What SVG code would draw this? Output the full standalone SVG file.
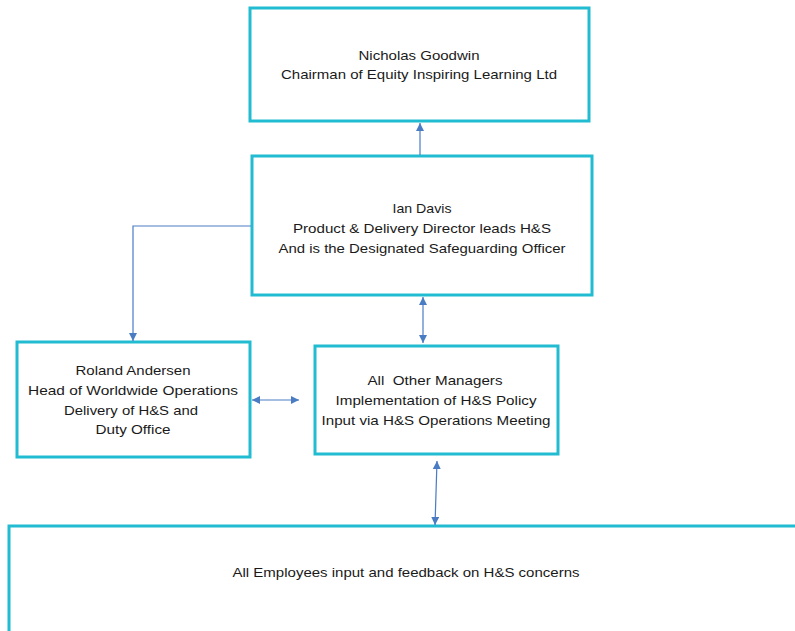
<svg xmlns="http://www.w3.org/2000/svg" width="795" height="631" viewBox="0 0 795 631">
<defs>
<style>
.box{fill:#fff;stroke:#22BCD2;stroke-width:3}
.t{font-family:"Liberation Sans","Open Sans",Arial,sans-serif;font-size:13.5px;fill:#1a1a1a;text-anchor:middle}
.c{fill:none;stroke:#4A7CC4;stroke-width:1.2}
</style>
<marker id="ah" viewBox="0 0 10 10" refX="10" refY="5" markerWidth="8" markerHeight="8" markerUnits="userSpaceOnUse" orient="auto-start-reverse">
<path d="M0,0 L10,5 L0,10 z" fill="#4A7CC4"/>
</marker>
</defs>
<rect width="795" height="631" fill="#fff"/>
<g id="chairman">
<rect class="box" x="250" y="8" width="339" height="113"/>
<text class="t" x="419" y="60" textLength="121" lengthAdjust="spacingAndGlyphs">Nicholas Goodwin</text>
<text class="t" x="419" y="79" textLength="276" lengthAdjust="spacingAndGlyphs">Chairman of Equity Inspiring Learning Ltd</text>
</g>
<g id="director">
<rect class="box" x="252" y="156" width="340" height="139"/>
<text class="t" x="422" y="213" textLength="59" lengthAdjust="spacingAndGlyphs">Ian Davis</text>
<text class="t" x="422" y="233" textLength="258" lengthAdjust="spacingAndGlyphs">Product &amp; Delivery Director leads H&amp;S</text>
<text class="t" x="422" y="253" textLength="287" lengthAdjust="spacingAndGlyphs">And is the Designated Safeguarding Officer</text>
</g>
<g id="operations">
<rect class="box" x="17" y="342" width="233" height="115"/>
<text class="t" x="133" y="375" textLength="115" lengthAdjust="spacingAndGlyphs">Roland Andersen</text>
<text class="t" x="133" y="395" textLength="210" lengthAdjust="spacingAndGlyphs">Head of Worldwide Operations</text>
<text class="t" x="131" y="415" textLength="134" lengthAdjust="spacingAndGlyphs">Delivery of H&amp;S and</text>
<text class="t" x="133" y="434" textLength="75" lengthAdjust="spacingAndGlyphs">Duty Office</text>
</g>
<g id="managers">
<rect class="box" x="315" y="346" width="243" height="108"/>
<text class="t" x="435" y="385" textLength="135" lengthAdjust="spacingAndGlyphs" xml:space="preserve">All  Other Managers</text>
<text class="t" x="436" y="405" textLength="201" lengthAdjust="spacingAndGlyphs">Implementation of H&amp;S Policy</text>
<text class="t" x="436" y="425" textLength="229" lengthAdjust="spacingAndGlyphs">Input via H&amp;S Operations Meeting</text>
</g>
<g id="employees">
<rect class="box" x="9" y="526" width="800" height="120"/>
<text class="t" x="406" y="577" textLength="347" lengthAdjust="spacingAndGlyphs">All Employees input and feedback on H&amp;S concerns</text>
</g>
<g id="connectors">
<line class="c" x1="420" y1="155" x2="420" y2="123" marker-end="url(#ah)"/>
<path class="c" d="M251,226 H133 V341" marker-end="url(#ah)"/>
<line class="c" x1="423" y1="297" x2="423" y2="343" marker-start="url(#ah)" marker-end="url(#ah)"/>
<line class="c" x1="252" y1="400" x2="299" y2="400" marker-start="url(#ah)" marker-end="url(#ah)"/>
<line class="c" x1="437" y1="461" x2="435" y2="525" marker-start="url(#ah)" marker-end="url(#ah)"/>
</g>
</svg>
